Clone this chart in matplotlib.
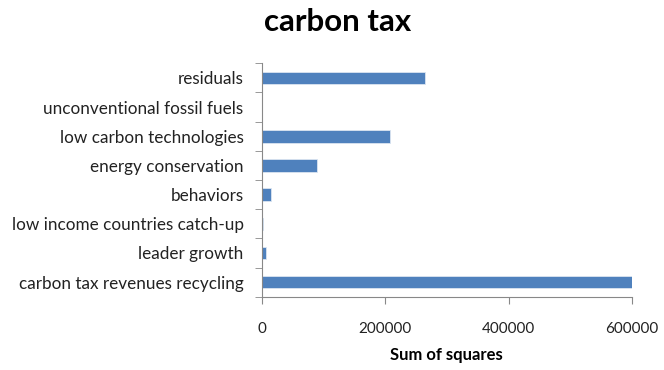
import numpy as np
import matplotlib
matplotlib.use('Agg')
import matplotlib.pyplot as plt

# bottom-to-top order, as drawn
categories = ['carbon tax revenues recycling', 'leader growth', 'low income countries catch-up',
              'behaviors', 'energy conservation', 'low carbon technologies',
              'unconventional fossil fuels', 'residuals']
values = [600500, 7500, 2600, 14600, 89500, 207700, 0, 264500]
xticks = [0, 200000, 400000, 600000]

plt.rcParams['font.family'] = ['Lato', 'DejaVu Sans']

fig = plt.figure(figsize=(6.64, 3.70), dpi=100, facecolor='white')
ax = fig.add_axes([0.394, 0.198, 0.558, 0.631])

y = np.arange(len(categories))
ax.barh(y, values, height=0.43, color='#4F81BD', edgecolor='#dbe5f1', linewidth=0.6)

ax.set_xlim(0, 600000)
ax.set_ylim(-0.5, len(categories) - 0.5)
ax.set_xticks(xticks)
ax.set_xticklabels([str(v) for v in xticks], fontsize=11, color='#222222')
ax.set_yticks(y)
ax.set_yticklabels(categories, fontsize=12.3, color='#222222')
ax.set_yticks(np.arange(len(categories) + 1) - 0.5, minor=True)
ax.tick_params(axis='y', which='major', length=0, pad=13)
ax.tick_params(axis='y', which='minor', length=5, color='#888888', direction='out')
ax.tick_params(axis='x', length=5, color='#888888', pad=13)

for s in ['top', 'right']:
    ax.spines[s].set_visible(False)
ax.spines['left'].set_color('#888888')
ax.spines['bottom'].set_color('#888888')

ax.set_xlabel('Sum of squares', fontsize=12, fontweight='bold', labelpad=8)
fig.text(0.508, 0.94, 'carbon tax', ha='center', va='center', fontsize=22.5, fontweight='bold')

plt.savefig('out.png', dpi=100, facecolor='white')
